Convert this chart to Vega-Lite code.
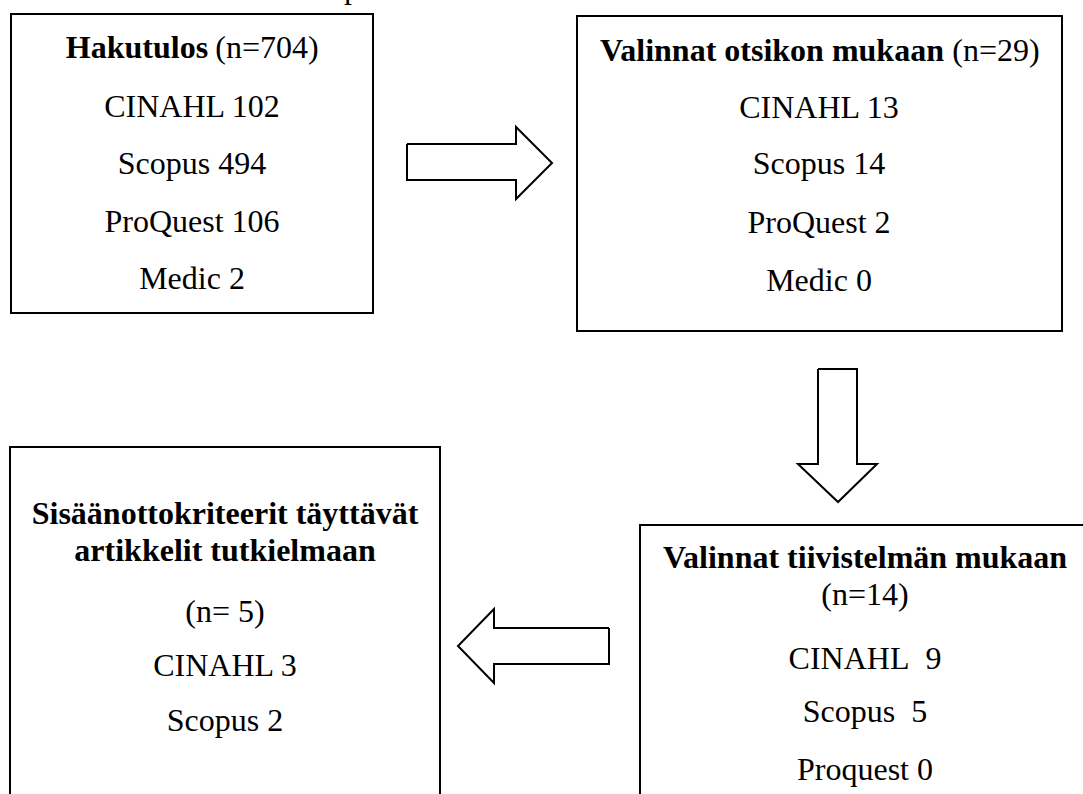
{
  "$schema": "https://vega.github.io/schema/vega-lite/v6.json",
  "width": 1083,
  "height": 794,
  "autosize": "none",
  "padding": 0,
  "background": "white",
  "config": {"view": {"stroke": null}},
  "datasets": {
    "boxes": [
      {"box": "Hakutulos", "x1": 11, "x2": 373, "y1": 14, "y2": 313},
      {"box": "Otsikko", "x1": 577, "x2": 1062, "y1": 16, "y2": 331},
      {"box": "Sisäänotto", "x1": 10, "x2": 440, "y1": 447, "y2": 830},
      {"box": "Tiivistelmä", "x1": 640, "x2": 1095, "y1": 525, "y2": 830}
    ],
    "arrows": [
      {"arrow": "right", "i": 0, "x": 407, "y": 144},
      {"arrow": "right", "i": 1, "x": 516, "y": 144},
      {"arrow": "right", "i": 2, "x": 516, "y": 127},
      {"arrow": "right", "i": 3, "x": 552, "y": 163},
      {"arrow": "right", "i": 4, "x": 516, "y": 199},
      {"arrow": "right", "i": 5, "x": 516, "y": 180},
      {"arrow": "right", "i": 6, "x": 407, "y": 180},
      {"arrow": "right", "i": 7, "x": 407, "y": 144},
      {"arrow": "down", "i": 0, "x": 818, "y": 369},
      {"arrow": "down", "i": 1, "x": 857, "y": 369},
      {"arrow": "down", "i": 2, "x": 857, "y": 464},
      {"arrow": "down", "i": 3, "x": 877, "y": 464},
      {"arrow": "down", "i": 4, "x": 838, "y": 502},
      {"arrow": "down", "i": 5, "x": 798, "y": 464},
      {"arrow": "down", "i": 6, "x": 818, "y": 464},
      {"arrow": "down", "i": 7, "x": 818, "y": 369},
      {"arrow": "left", "i": 0, "x": 609, "y": 628},
      {"arrow": "left", "i": 1, "x": 494, "y": 628},
      {"arrow": "left", "i": 2, "x": 494, "y": 609},
      {"arrow": "left", "i": 3, "x": 458, "y": 646},
      {"arrow": "left", "i": 4, "x": 494, "y": 683},
      {"arrow": "left", "i": 5, "x": 494, "y": 664},
      {"arrow": "left", "i": 6, "x": 609, "y": 664},
      {"arrow": "left", "i": 7, "x": 609, "y": 628}
    ],
    "labels": [
      {"x": 352, "y": -2, "t": "p", "w": "n"},
      {"x": 137, "y": 58, "t": "Hakutulos", "w": "b"},
      {"x": 267, "y": 58, "t": "(n=704)", "w": "n"},
      {"x": 192, "y": 117, "t": "CINAHL 102", "w": "n"},
      {"x": 192, "y": 174, "t": "Scopus 494", "w": "n"},
      {"x": 192, "y": 232, "t": "ProQuest 106", "w": "n"},
      {"x": 192, "y": 289, "t": "Medic 2", "w": "n"},
      {"x": 772, "y": 61, "t": "Valinnat otsikon mukaan", "w": "b"},
      {"x": 996, "y": 61, "t": "(n=29)", "w": "n"},
      {"x": 819, "y": 118, "t": "CINAHL 13", "w": "n"},
      {"x": 819, "y": 174, "t": "Scopus 14", "w": "n"},
      {"x": 819, "y": 233, "t": "ProQuest 2", "w": "n"},
      {"x": 819, "y": 291, "t": "Medic 0", "w": "n"},
      {"x": 225, "y": 524, "t": "Sisäänottokriteerit täyttävät", "w": "b"},
      {"x": 225, "y": 561, "t": "artikkelit tutkielmaan", "w": "b"},
      {"x": 225, "y": 622, "t": "(n= 5)", "w": "n"},
      {"x": 225, "y": 676, "t": "CINAHL 3", "w": "n"},
      {"x": 225, "y": 731, "t": "Scopus 2", "w": "n"},
      {"x": 865, "y": 568, "t": "Valinnat tiivistelmän mukaan", "w": "b"},
      {"x": 865, "y": 605, "t": "(n=14)", "w": "n"},
      {"x": 865, "y": 669, "t": "CINAHL\u00a0 9", "w": "n"},
      {"x": 865, "y": 722, "t": "Scopus\u00a0 5", "w": "n"},
      {"x": 865, "y": 780, "t": "Proquest 0", "w": "n"}
    ]
  },
  "layer": [
    {
      "data": {"name": "boxes"},
      "mark": {"type": "rect", "fill": "white", "stroke": "black", "strokeWidth": 2, "clip": true},
      "encoding": {
        "x": {"field": "x1", "type": "quantitative", "scale": {"domain": [0, 1083], "nice": false, "zero": false}, "axis": null},
        "x2": {"field": "x2"},
        "y": {"field": "y1", "type": "quantitative", "scale": {"domain": [0, 794], "nice": false, "zero": false, "reverse": true}, "axis": null},
        "y2": {"field": "y2"}
      }
    },
    {
      "data": {"name": "arrows"},
      "mark": {"type": "line", "stroke": "black", "strokeWidth": 2, "strokeJoin": "miter", "interpolate": "linear"},
      "encoding": {
        "x": {"field": "x", "type": "quantitative", "scale": {"domain": [0, 1083], "nice": false, "zero": false}, "axis": null},
        "y": {"field": "y", "type": "quantitative", "scale": {"domain": [0, 794], "nice": false, "zero": false, "reverse": true}, "axis": null},
        "detail": {"field": "arrow", "type": "nominal"},
        "order": {"field": "i", "type": "quantitative"}
      }
    },
    {
      "data": {"name": "labels"},
      "transform": [{"filter": "datum.w === 'n'"}],
      "mark": {"type": "text", "font": "Times New Roman, Liberation Serif, DejaVu Serif, serif", "fontSize": 32, "fontWeight": "normal", "color": "black", "align": "center", "baseline": "alphabetic", "clip": true},
      "encoding": {
        "x": {"field": "x", "type": "quantitative", "scale": {"domain": [0, 1083], "nice": false, "zero": false}, "axis": null},
        "y": {"field": "y", "type": "quantitative", "scale": {"domain": [0, 794], "nice": false, "zero": false, "reverse": true}, "axis": null},
        "text": {"field": "t", "type": "nominal"}
      }
    },
    {
      "data": {"name": "labels"},
      "transform": [{"filter": "datum.w === 'b'"}],
      "mark": {"type": "text", "font": "Times New Roman, Liberation Serif, DejaVu Serif, serif", "fontSize": 32, "fontWeight": "bold", "color": "black", "align": "center", "baseline": "alphabetic", "clip": true},
      "encoding": {
        "x": {"field": "x", "type": "quantitative", "scale": {"domain": [0, 1083], "nice": false, "zero": false}, "axis": null},
        "y": {"field": "y", "type": "quantitative", "scale": {"domain": [0, 794], "nice": false, "zero": false, "reverse": true}, "axis": null},
        "text": {"field": "t", "type": "nominal"}
      }
    }
  ]
}
